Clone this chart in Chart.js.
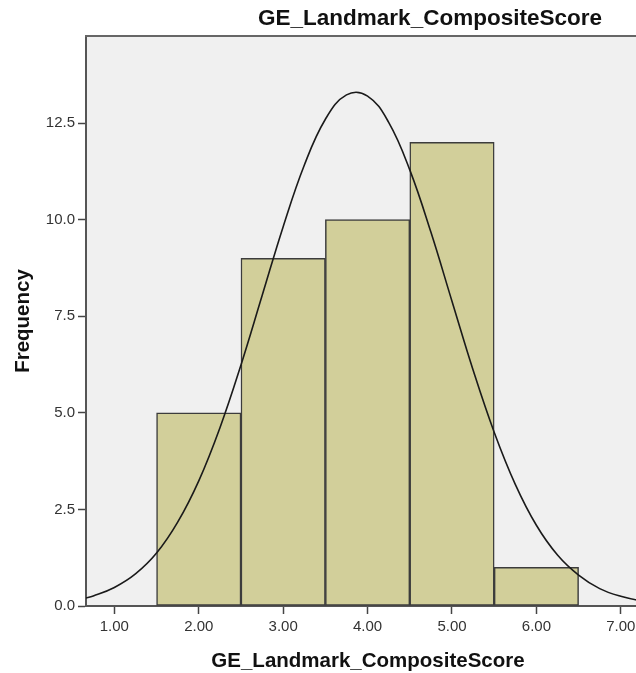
<!DOCTYPE html>
<html>
<head>
<meta charset="utf-8">
<script src="https://cdn.jsdelivr.net/npm/chart.js@4/dist/chart.umd.min.js"></script>
<style>
  html, body { margin: 0; padding: 0; overflow: hidden; background: #fff; }
</style>
</head>
<body>
<canvas id="hist" width="650" height="673"></canvas>
<script>
const chartTitle = "GE_Landmark_CompositeScore";
const xTitle = "GE_Landmark_CompositeScore";
const yTitle = "Frequency";

// histogram bins (centre of each 1-point bin) and counts
const binCenters = [2, 3, 4, 5, 6];
const frequencies = [5, 9, 10, 12, 1];

// normal curve overlay, sampled every quarter point
const curveX = [0.65, 0.75, 1.0, 1.25, 1.5, 1.75, 2.0, 2.25, 2.5, 2.75, 3.0, 3.25, 3.5,
  3.75, 4.0, 4.25, 4.5, 4.75, 5.0, 5.25, 5.5, 5.75, 6.0, 6.25, 6.5, 6.75, 7.0, 7.25, 7.4];
const curveY = [0.20, 0.26, 0.48, 0.83, 1.37, 2.17, 3.24, 4.61, 6.24, 8.03, 9.82, 11.41, 12.60,
  13.23, 13.20, 12.52, 11.29, 9.68, 7.89, 6.11, 4.50, 3.15, 2.09, 1.32, 0.80, 0.45, 0.25, 0.13, 0.09];

const xTicks = [1, 2, 3, 4, 5, 6, 7];
const yTicks = [0, 2.5, 5, 7.5, 10, 12.5];

const FONT = '"Liberation Sans", Arial, sans-serif';

// grey plot background + top frame line, and the chart title
const frame = {
  id: 'frame',
  beforeDraw(chart) {
    const { ctx, chartArea: a } = chart;
    ctx.save();
    ctx.fillStyle = '#f0f0f0';
    ctx.fillRect(a.left, a.top, a.right - a.left, a.bottom - a.top);
    ctx.restore();
  },
  afterDraw(chart) {
    const { ctx, chartArea: a } = chart;
    ctx.save();
    ctx.strokeStyle = '#666';
    ctx.lineWidth = 2;
    ctx.beginPath();
    ctx.moveTo(a.left - 1, a.top);
    ctx.lineTo(a.right, a.top);
    ctx.stroke();
    ctx.fillStyle = '#111';
    ctx.font = 'bold 22.5px ' + FONT;
    ctx.textAlign = 'center';
    ctx.textBaseline = 'middle';
    ctx.fillText(chartTitle, 430, 19);
    ctx.restore();
  }
};

new Chart(document.getElementById('hist'), {
  type: 'bar',
  data: {
    datasets: [
      {
        type: 'line',
        order: 0,
        data: curveX.map((x, i) => ({ x, y: curveY[i] })),
        borderColor: '#1a1a1a',
        borderWidth: 1.6,
        pointRadius: 0,
        tension: 0.4,
        fill: false
      },
      {
        type: 'bar',
        order: 1,
        data: binCenters.map((x, i) => ({ x, y: frequencies[i] })),
        backgroundColor: '#d2cf9a',
        borderColor: '#3c3c3c',
        borderWidth: 1.5,
        borderSkipped: false,
        barPercentage: 1,
        categoryPercentage: 1
      }
    ]
  },
  options: {
    responsive: false,
    animation: false,
    layout: { padding: { top: 36, left: 0, right: 0, bottom: 0 } },
    plugins: {
      legend: { display: false },
      tooltip: { enabled: false }
    },
    scales: {
      x: {
        type: 'linear',
        offset: false,
        min: 0.664,
        max: 7.346,
        afterBuildTicks: s => { s.ticks = xTicks.map(v => ({ value: v })); },
        afterFit: s => { s.height = 67; },
        ticks: {
          color: '#333',
          font: { family: FONT, size: 15 },
          padding: 4,
          callback: v => Number(v).toFixed(2)
        },
        grid: { offset: false, drawOnChartArea: false, drawTicks: true, tickLength: 8, tickColor: '#444', tickWidth: 1.5 },
        border: { display: true, color: '#555', width: 2 },
        title: {
          display: true,
          text: xTitle,
          color: '#111',
          font: { family: FONT, size: 20.5, weight: 'bold', lineHeight: 1.1 },
          padding: { top: 0, bottom: 0 }
        }
      },
      y: {
        min: 0,
        max: 14.755,
        afterBuildTicks: s => { s.ticks = yTicks.map(v => ({ value: v })); },
        afterFit: s => { s.width = 86; },
        ticks: {
          color: '#333',
          font: { family: FONT, size: 15 },
          padding: 3,
          callback: v => Number(v).toFixed(1)
        },
        grid: { drawOnChartArea: false, drawTicks: true, tickLength: 8, tickColor: '#444', tickWidth: 1.5 },
        border: { display: true, color: '#555', width: 2 },
        title: {
          display: true,
          text: yTitle,
          color: '#111',
          font: { family: FONT, size: 20.5, weight: 'bold' },
          padding: { top: 11, bottom: 0 }
        }
      }
    }
  },
  plugins: [frame]
});
</script>
</body>
</html>
